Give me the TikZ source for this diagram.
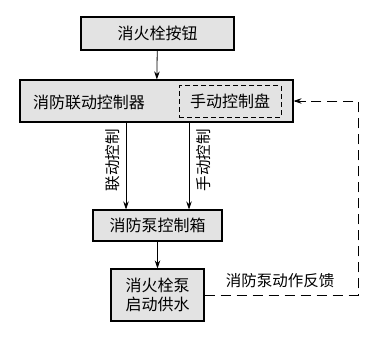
\documentclass[tikz,border=0pt]{standalone}
\usepackage{fontspec}
\newfontfamily\cjk{Noto Sans CJK SC}
\usetikzlibrary{arrows.meta}
\begin{document}
\begin{tikzpicture}[x=1pt,y=-1pt,
  box/.style={draw, line width=1.1pt, fill=gray!22, inner sep=0pt, font=\cjk\fontsize{16}{19}\selectfont, align=center},
  lbl/.style={inner sep=0pt, font=\cjk\fontsize{15.5}{18}\selectfont},
  arr/.style={line width=0.8pt, -{Stealth[length=8pt,width=5.5pt]}},
  fb/.style={line width=0.8pt, dash pattern=on 10pt off 6pt}]
\useasboundingbox (0,0) rectangle (383,337);
\node[box, minimum width=153pt, minimum height=33pt] (b1) at (157.5,33.5) {消火栓按钮};
\node[box, minimum width=273pt, minimum height=42pt] (b2) at (156.5,101) {};
\node[lbl, font=\cjk\fontsize{16}{19}\selectfont] (t2) at (89,102) {消防联动控制器};
\node[draw, line width=1pt, dash pattern=on 5pt off 3pt, minimum width=102pt, minimum height=31pt, inner sep=0pt, font=\cjk\fontsize{16}{19}\selectfont] (b2m) at (230,101.5) {手动控制盘};
\node[box, minimum width=129pt, minimum height=31pt] (b3) at (157.5,225.5) {消防泵控制箱};
\node[box, minimum width=93pt, minimum height=52pt] (b4) at (157.5,295) {消火栓泵\\启动供水};
\coordinate (lx) at (126,0);
\coordinate (rx) at (189,0);
\coordinate (c1) at (358,295);
\coordinate (c2) at (358,101);
\node[lbl, rotate=90] (l1) at (113,160) {联动控制};
\node[lbl, rotate=90] (l2) at (204,160) {手动控制};
\node[lbl] (l3) at (280,281) {消防泵动作反馈};
\draw[arr] (b1) -- (b2);
\draw[arr] (b2.south -| lx) -- (b3.north -| lx);
\draw[arr] (b2.south -| rx) -- (b3.north -| rx);
\draw[arr] (b3) -- (b4);
\draw[fb] (b4.east |- c1) -- (c1) -- (c2) -- (c2 -| b2.east);
\draw[arr] ([xshift=12pt]b2.east) -- (b2.east);
\end{tikzpicture}
\end{document}
